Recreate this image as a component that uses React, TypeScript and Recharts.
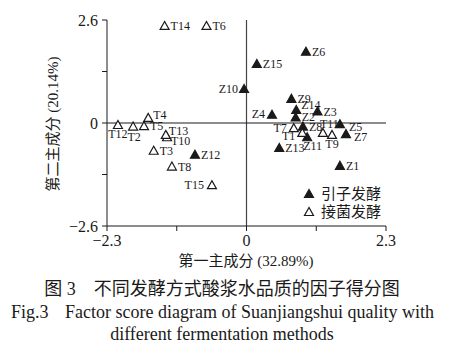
import React from 'react';
import {
  ScatterChart,
  Scatter,
  XAxis,
  YAxis,
  ReferenceLine
} from 'recharts';

// 引子发酵 (Z) samples
const zNames = ['Z1', 'Z2', 'Z3', 'Z4', 'Z5', 'Z6', 'Z7', 'Z8', 'Z9', 'Z10', 'Z11', 'Z12', 'Z13', 'Z14', 'Z15'];
const zPC1 = [1.54, 0.81, 1.17, 0.42, 1.54, 0.98, 1.64, 0.93, 0.74, -0.04, 1.0, -0.85, 0.54, 0.82, 0.17];
const zPC2 = [-1.08, 0.14, 0.29, 0.21, -0.03, 1.8, -0.28, -0.09, 0.61, 0.86, -0.36, -0.8, -0.63, 0.33, 1.49];

// 接菌发酵 (T) samples
const tNames = ['T1', 'T2', 'T3', 'T4', 'T5', 'T6', 'T7', 'T8', 'T9', 'T10', 'T11', 'T12', 'T13', 'T14', 'T15'];
const tPC1 = [0.92, -1.87, -1.53, -1.62, -1.69, -0.66, 0.78, -1.23, 1.41, -1.31, 1.26, -2.12, -1.33, -1.35, -0.57];
const tPC2 = [-0.25, -0.09, -0.7, 0.13, -0.08, 2.45, -0.13, -1.1, -0.3, -0.36, -0.25, -0.05, -0.3, 2.45, -1.57];

const xTicks = [-2.3, -1.15, 0, 1.15, 2.3];
const xTickLabels = ['\u22122.3', '', '0', '', '2.3'];
const yTicks = [-2.6, -1.3, 0, 1.3, 2.6];
const yTickLabels = ['\u22122.6', '', '0', '', '2.6'];

const seriesNames = ['引子发酵', '接菌发酵'];

const zData = zNames.map((name, i) => ({ name, x: zPC1[i], y: zPC2[i] }));
const tData = tNames.map((name, i) => ({ name, x: tPC1[i], y: tPC2[i] }));

const SERIF = '"Liberation Serif", "Times New Roman", "Noto Sans CJK SC", serif';
const INK = '#1a1a1a';

// where each point label sits relative to its marker: dx, dy, anchor
const labelPlace: Record<string, [number, number, 'start' | 'middle' | 'end']> = {
  Z10: [-6, 4, 'end'],
  T4: [5, 1, 'start'],
  T12: [0, 13, 'middle'],
  T2: [1, 14, 'middle'],
  T13: [3, 0, 'start'],
  T10: [4, 8, 'start'],
  T15: [-8, 4, 'end'],
  Z4: [-7, 3, 'end'],
  T7: [-7, 4, 'end'],
  T1: [-7, 7, 'end'],
  Z11: [-4, 13, 'start'],
  T11: [-3, -5, 'start'],
  T9: [0, 13, 'middle'],
  Z5: [9, 7, 'start'],
  Z7: [8, 7, 'start'],
  Z14: [5, -1, 'start']
};

const triPoints = (cx: number, cy: number) =>
  `${cx},${cy - 4.5} ${cx - 4.5},${cy + 3.5} ${cx + 4.5},${cy + 3.5}`;

const makeShape = (filled: boolean) => (props: any) => {
  const { cx, cy, payload } = props;
  const [dx, dy, anchor] = labelPlace[payload.name] || [6, 4, 'start'];
  return (
    <g>
      <polygon
        points={triPoints(cx, cy)}
        fill={filled ? INK : '#fff'}
        stroke={INK}
        strokeWidth={1.2}
      />
      <text
        x={cx + dx}
        y={cy + dy}
        textAnchor={anchor}
        fontSize={12}
        fontFamily={SERIF}
        fill={INK}
      >
        {payload.name}
      </text>
    </g>
  );
};

export default function App() {
  return (
    <div style={{ position: 'absolute', left: 0, top: 0, width: 461, height: 362, background: '#fff' }}>
      <ScatterChart width={461} height={270} margin={{ top: 20, right: 75, bottom: 4, left: 57 }}>
        <XAxis
          type="number"
          dataKey="x"
          domain={[-2.3, 2.3]}
          ticks={xTicks}
          interval={0}
          allowDataOverflow
          height={40}
          tickSize={5}
          tickMargin={4}
          tickFormatter={(_v: number, i: number) => xTickLabels[i]}
          tick={{ fontSize: 16, fontFamily: SERIF, fill: INK }}
          axisLine={{ stroke: INK }}
          tickLine={{ stroke: INK }}
        />
        <YAxis
          type="number"
          dataKey="y"
          domain={[-2.6, 2.6]}
          ticks={yTicks}
          interval={0}
          allowDataOverflow
          width={50}
          tickSize={5}
          tickMargin={4}
          tickFormatter={(_v: number, i: number) => yTickLabels[i]}
          tick={{ fontSize: 16, fontFamily: SERIF, fill: INK }}
          axisLine={{ stroke: INK }}
          tickLine={{ stroke: INK }}
        />
        <ReferenceLine x={0} stroke="#444" strokeWidth={1.2} />
        <ReferenceLine y={0} stroke={INK} strokeWidth={1} />
        <Scatter name={seriesNames[0]} data={zData} shape={makeShape(true)} isAnimationActive={false} />
        <Scatter name={seriesNames[1]} data={tData} shape={makeShape(false)} isAnimationActive={false} />
      </ScatterChart>
      <svg
        width={461}
        height={362}
        style={{ position: 'absolute', left: 0, top: 0, pointerEvents: 'none' }}
        fontFamily={SERIF}
        fill={INK}
      >
        {/* legend */}
        {seriesNames.map((n, i) => (
          <g key={n}>
            <polygon
              points={triPoints(309, 194 + i * 18)}
              fill={i === 0 ? INK : '#fff'}
              stroke={INK}
              strokeWidth={1.2}
            />
            <text x={321} y={199 + i * 18} fontSize={15}>{n}</text>
          </g>
        ))}
        <text transform="translate(53,124) rotate(-90)" textAnchor="middle" dominantBaseline="central" fontSize={15}>
          第二主成分 (20.14%)
        </text>
        <text x={246} y={266} textAnchor="middle" fontSize={15}>
          第一主成分 (32.89%)
        </text>
        <text x={222} y={295} textAnchor="middle" fontSize={18}>
          图 3{'\u3000'}不同发酵方式酸浆水品质的因子得分图
        </text>
        <text x={11} y={318} fontSize={18}>Fig.3</text>
        <text x={65} y={318} fontSize={18}>Factor score diagram of Suanjiangshui quality with</text>
        <text x={222} y={340} textAnchor="middle" fontSize={18}>different fermentation methods</text>
      </svg>
    </div>
  );
}
